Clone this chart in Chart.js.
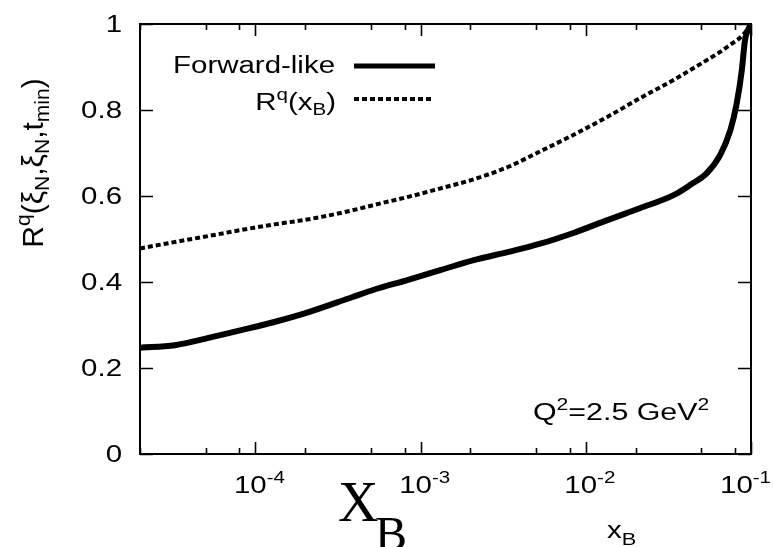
<!DOCTYPE html>
<html>
<head>
<meta charset="utf-8">
<script src="https://cdn.jsdelivr.net/npm/chart.js@4/dist/chart.umd.min.js"></script>
<style>
html,body{margin:0;padding:0;background:#fff;}
#c{display:block;}
</style>
</head>
<body>
<canvas id="c" width="773" height="547"></canvas>
<script>
// ---- data ----
const xB = [2e-5, 3.25e-5, 5.2e-5, 8.2e-5, 1.3e-4, 2.1e-4, 3.8e-4, 5.2e-4, 8.4e-4, 1.33e-3, 2.1e-3, 3.4e-3, 5.3e-3, 8.4e-3, 1.35e-2, 2.14e-2, 3.4e-2, 4.3e-2, 5.4e-2, 6.5e-2, 7.5e-2, 8.2e-2, 8.8e-2, 9.2e-2, 9.7e-2, 0.1];
const forwardLike = [0.247, 0.253, 0.270, 0.288, 0.307, 0.330, 0.364, 0.382, 0.405, 0.428, 0.451, 0.470, 0.489, 0.514, 0.544, 0.572, 0.602, 0.626, 0.653, 0.695, 0.753, 0.816, 0.893, 0.963, 0.99, 1.0];
const rqXB = [0.478, 0.493, 0.507, 0.521, 0.534, 0.546, 0.566, 0.579, 0.598, 0.618, 0.639, 0.668, 0.704, 0.742, 0.784, 0.828, 0.870, 0.893, 0.916, 0.935, 0.952, 0.962, 0.972, 0.980, 0.992, 1.0];
const yTicks = [0, 0.2, 0.4, 0.6, 0.8, 1];
const yTickLabels = ["0", "0.2", "0.4", "0.6", "0.8", "1"];
const xMajorTicks = [1e-4, 1e-3, 1e-2, 1e-1];
const xMajorExp = ["-4", "-3", "-2", "-1"];
const xMinorTicks = [2e-5, 5e-5, 8e-5, 2e-4, 5e-4, 8e-4, 2e-3, 5e-3, 8e-3, 2e-2, 5e-2, 8e-2];
const seriesNames = ["Forward-like", "R^q(x_B)"];

const SX = 1.28;            // horizontal stretch of the reference's text
const SANS = '"Liberation Sans", Arial, sans-serif';

// rich text: segments {t, size, dy, family}
function richWidth(ctx, segs){
  let w = 0;
  for (const s of segs){ ctx.font = s.size + 'px ' + (s.family || SANS); w += ctx.measureText(s.t).width; }
  return w;
}
function drawRich(ctx, segs, x, y, align, rotate, sx){
  ctx.save();
  ctx.translate(x, y);
  ctx.scale(sx === undefined ? SX : sx, 1);
  if (rotate) ctx.rotate(-Math.PI/2);
  const w = richWidth(ctx, segs);
  let cx = align === 'right' ? -w : (align === 'center' ? -w/2 : 0);
  ctx.textBaseline = 'alphabetic';
  ctx.textAlign = 'left';
  ctx.fillStyle = '#000';
  for (const s of segs){
    ctx.font = s.size + 'px ' + (s.family || SANS);
    ctx.fillText(s.t, cx, s.dy || 0);
    cx += ctx.measureText(s.t).width;
  }
  ctx.restore();
  return w * (sx === undefined ? SX : sx);
}

const decor = {
  id: 'decor',
  afterDatasetsDraw(chart){
    const ctx = chart.ctx;
    const a = chart.chartArea;
    const xs = chart.scales.x, ys = chart.scales.y;
    ctx.save();
    ctx.strokeStyle = '#000';
    ctx.lineWidth = 2;
    ctx.strokeRect(a.left, a.top, a.right - a.left, a.bottom - a.top);
    ctx.lineWidth = 1.6;
    ctx.beginPath();
    for (const v of yTicks){
      const p = Math.round(ys.getPixelForValue(v)) + 0.5;
      ctx.moveTo(a.left, p); ctx.lineTo(a.left + 13, p);
      ctx.moveTo(a.right, p); ctx.lineTo(a.right - 13, p);
    }
    for (const v of xMajorTicks){
      const p = Math.round(xs.getPixelForValue(v)) + 0.5;
      ctx.moveTo(p, a.bottom); ctx.lineTo(p, a.bottom - 12);
      ctx.moveTo(p, a.top); ctx.lineTo(p, a.top + 12);
    }
    for (const v of xMinorTicks){
      const p = Math.round(xs.getPixelForValue(v)) + 0.5;
      ctx.moveTo(p, a.bottom); ctx.lineTo(p, a.bottom - 6);
      ctx.moveTo(p, a.top); ctx.lineTo(p, a.top + 6);
    }
    ctx.stroke();
    ctx.restore();

    // y tick labels
    yTicks.forEach((v, i) => {
      const p = ys.getPixelForValue(v);
      drawRich(ctx, [{t: yTickLabels[i], size: 23}], 122, p + 8, 'right');
    });
    // x tick labels 10^k (kept inside the canvas)
    xMajorTicks.forEach((v, i) => {
      const segs = [{t: '10', size: 23}, {t: xMajorExp[i], size: 16, dy: -10}];
      const w = richWidth(ctx, segs) * SX;
      let cx = xs.getPixelForValue(v) + 4;
      if (cx + w/2 > 771) cx = 771 - w/2;
      drawRich(ctx, segs, cx, 493, 'center');
    });

    // legend
    const lx0 = 354, lx1 = 435;
    drawRich(ctx, [{t: seriesNames[0], size: 23}], 335, 73, 'right');
    ctx.save();
    ctx.strokeStyle = '#000';
    ctx.lineWidth = 5;
    ctx.beginPath(); ctx.moveTo(lx0, 66); ctx.lineTo(lx1, 66); ctx.stroke();
    ctx.lineWidth = 4;
    ctx.setLineDash([5, 3]);
    ctx.beginPath(); ctx.moveTo(lx0, 99); ctx.lineTo(lx1 - 3, 99); ctx.stroke();
    ctx.restore();
    drawRich(ctx, [{t: 'R', size: 23}, {t: 'q', size: 16, dy: -10}, {t: '(x', size: 23}, {t: 'B', size: 16, dy: 5}, {t: ')', size: 23}], 336, 110, 'right');

    // annotation
    drawRich(ctx, [{t: 'Q', size: 23}, {t: '2', size: 16, dy: -10}, {t: '=2.5 GeV', size: 23}, {t: '2', size: 16, dy: -10}], 533, 420, 'left', false, 1.32);

    // y axis title (rotated)
    drawRich(ctx, [{t: 'R', size: 30}, {t: 'q', size: 21, dy: -13}, {t: '(\u03be', size: 30}, {t: 'N', size: 21, dy: 6},
                   {t: ',\u03be', size: 30}, {t: 'N', size: 21, dy: 6}, {t: ',t', size: 30}, {t: 'min', size: 21, dy: 6}, {t: ')', size: 30}],
             43, 163, 'center', true, 1);

    // x axis small title
    drawRich(ctx, [{t: 'x', size: 23}, {t: 'B', size: 17, dy: 7}], 607, 538, 'left');

    // large serif X_B
    ctx.save();
    ctx.fillStyle = '#000';
    ctx.textBaseline = 'alphabetic';
    ctx.textAlign = 'left';
    ctx.font = '56px "Liberation Serif", "Times New Roman", serif';
    ctx.fillText('X', 338, 521);
    ctx.font = '48px "Liberation Serif", "Times New Roman", serif';
    ctx.fillText('B', 375, 550);
    ctx.restore();
  }
};

new Chart(document.getElementById('c'), {
  type: 'line',
  data: {
    datasets: [
      { label: seriesNames[0], data: xB.map((x, i) => ({x, y: forwardLike[i]})),
        borderColor: '#000', borderWidth: 6, pointRadius: 0, fill: false, cubicInterpolationMode: 'monotone' },
      { label: seriesNames[1], data: xB.map((x, i) => ({x, y: rqXB[i]})),
        borderColor: '#000', borderWidth: 4, borderDash: [5, 3], pointRadius: 0, fill: false, cubicInterpolationMode: 'monotone' }
    ]
  },
  options: {
    responsive: false,
    animation: false,
    layout: { padding: { top: 24, right: 22, left: 0, bottom: 0 } },
    plugins: { legend: { display: false }, tooltip: { enabled: false } },
    scales: {
      x: { type: 'logarithmic', min: 2e-5, max: 0.1,
           grid: { display: false, drawTicks: false }, border: { display: false },
           ticks: { display: false },
           afterFit(s){ s.height = 93; } },
      y: { type: 'linear', min: 0, max: 1,
           grid: { display: false, drawTicks: false }, border: { display: false },
           ticks: { display: false, stepSize: 0.2 },
           afterFit(s){ s.width = 140; } }
    }
  },
  plugins: [decor]
});
</script>
</body>
</html>
